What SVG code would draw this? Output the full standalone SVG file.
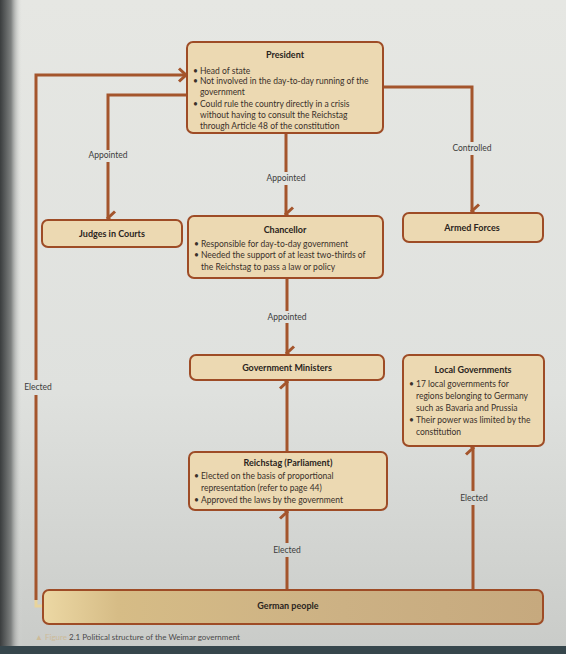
<svg xmlns="http://www.w3.org/2000/svg" width="566" height="654" viewBox="0 0 566 654">
<defs>
<linearGradient id="page" x1="0" y1="0" x2="0" y2="1">
<stop offset="0" stop-color="#e6e7e3"/>
<stop offset="0.6" stop-color="#dfe1de"/>
<stop offset="1" stop-color="#c9cbc8"/>
</linearGradient>
<linearGradient id="edge" x1="0" y1="0" x2="1" y2="0">
<stop offset="0" stop-color="#3a3d3e"/>
<stop offset="0.5" stop-color="#7d807f"/>
<stop offset="1" stop-color="#e0e1de" stop-opacity="0"/>
</linearGradient>
<linearGradient id="gold" x1="0" y1="0" x2="1" y2="0">
<stop offset="0" stop-color="#ecd8a4"/>
<stop offset="0.15" stop-color="#d6bc86"/>
<stop offset="0.6" stop-color="#ccb184"/>
<stop offset="1" stop-color="#c6a97e"/>
</linearGradient>
<marker id="arr" viewBox="0 0 16 11" refX="8" refY="9" markerWidth="16" markerHeight="11" markerUnits="userSpaceOnUse" orient="auto-start-reverse">
<polyline points="1.5,2 8,9 14.5,2" fill="none" stroke="#a4552c" stroke-width="3"/>
</marker>
<marker id="arrR" viewBox="0 0 11 16" refX="9" refY="8" markerWidth="11" markerHeight="16" markerUnits="userSpaceOnUse" orient="auto">
<polyline points="2,1.5 9,8 2,14.5" fill="none" stroke="#a4552c" stroke-width="3"/>
</marker>
</defs>
<style>
.box{fill:#ecd9b2;stroke:#9e4c26;stroke-width:2}
.t{font-family:Lato,"Open Sans",sans-serif;font-weight:bold;font-size:9px;fill:#2a2420;text-anchor:middle}
.b{font-family:Lato,"Open Sans",sans-serif;font-size:8.5px;fill:#3a302a}
.lbl{font-family:Lato,"Open Sans",sans-serif;font-size:8.5px;fill:#3c3c3c;text-anchor:middle}
.ln{fill:none;stroke:#a4552c;stroke-width:3}
.cap{font-family:Lato,"Open Sans",sans-serif;font-size:8px;fill:#4a4a4a}
</style>
<rect width="566" height="654" fill="url(#page)"/>
<rect x="0" y="0" width="22" height="654" fill="url(#edge)"/>
<rect x="0" y="646" width="566" height="8" fill="#36464c"/>

<g id="connectors">
<path class="ln" d="M36,600 V395 M36,380 V75 H186" marker-end="url(#arrR)"/>
<path class="ln" d="M188,95 H108 V150 M108,162 V218" marker-end="url(#arr)"/>
<path class="ln" d="M286,133 V172 M286,185 V214" marker-end="url(#arr)"/>
<path class="ln" d="M383,87 H472 V142 M472,155 V211" marker-end="url(#arr)"/>
<path class="ln" d="M287,279 V311 M287,323 V353" marker-end="url(#arr)"/>
<path class="ln" d="M287,451 V382" marker-end="url(#arr)"/>
<path class="ln" d="M287,590 V557 M287,543 V512" marker-end="url(#arr)"/>
<path class="ln" d="M473,596 V505 M473,491 V448" marker-end="url(#arr)"/>
<text class="lbl" x="108" y="158">Appointed</text>
<text class="lbl" x="286" y="181">Appointed</text>
<text class="lbl" x="472" y="151">Controlled</text>
<text class="lbl" x="287" y="320">Appointed</text>
<text class="lbl" x="287" y="553">Elected</text>
<text class="lbl" x="474" y="501">Elected</text>
<text class="lbl" x="38" y="390">Elected</text>
</g>

<g id="president">
<rect class="box" x="187" y="42" width="196" height="91" rx="6"/>
<text class="t" x="285" y="58">President</text>
<text class="b" x="193" y="74">• <tspan x="200">Head of state</tspan></text>
<text class="b" x="193" y="84">• <tspan x="200">Not involved in the day-to-day running of the</tspan></text>
<text class="b" x="200" y="95">government</text>
<text class="b" x="193" y="107">• <tspan x="200">Could rule the country directly in a crisis</tspan></text>
<text class="b" x="200" y="118">without having to consult the Reichstag</text>
<text class="b" x="200" y="129">through Article 48 of the constitution</text>
</g>

<g id="judges">
<rect class="box" x="42" y="220" width="140" height="27" rx="6"/>
<text class="t" x="112" y="237">Judges in Courts</text>
</g>

<g id="armed-forces">
<rect class="box" x="403" y="213" width="140" height="29" rx="6"/>
<text class="t" x="472" y="231">Armed Forces</text>
</g>

<g id="chancellor">
<rect class="box" x="188" y="216" width="195" height="62" rx="6"/>
<text class="t" x="285" y="233">Chancellor</text>
<text class="b" x="194" y="247">• <tspan x="201">Responsible for day-to-day government</tspan></text>
<text class="b" x="194" y="258">• <tspan x="201">Needed the support of at least two-thirds of</tspan></text>
<text class="b" x="201" y="270">the Reichstag to pass a law or policy</text>
</g>

<g id="government-ministers">
<rect class="box" x="190" y="355" width="194" height="25" rx="6"/>
<text class="t" x="287" y="371">Government Ministers</text>
</g>

<g id="local-governments">
<rect class="box" x="403" y="355" width="141" height="91" rx="6"/>
<text class="t" x="473" y="373">Local Governments</text>
<text class="b" x="409" y="387">• <tspan x="416">17 local governments for</tspan></text>
<text class="b" x="416" y="399">regions belonging to Germany</text>
<text class="b" x="416" y="411">such as Bavaria and Prussia</text>
<text class="b" x="409" y="423">• <tspan x="416">Their power was limited by the</tspan></text>
<text class="b" x="416" y="435">constitution</text>
</g>

<g id="reichstag">
<rect class="box" x="189" y="452" width="198" height="58" rx="6"/>
<text class="t" x="288" y="466">Reichstag (Parliament)</text>
<text class="b" x="194" y="479">• <tspan x="201">Elected on the basis of proportional</tspan></text>
<text class="b" x="201" y="491">representation (refer to page 44)</text>
<text class="b" x="194" y="503">• <tspan x="201">Approved the laws by the government</tspan></text>
</g>

<g id="german-people">
<path d="M36,600 V606 H44" fill="none" stroke="#e8d49c" stroke-width="3"/>
<rect x="43" y="590" width="500" height="34" rx="6" fill="url(#gold)" stroke="#9e4c26" stroke-width="2"/>
<text class="t" x="288" y="609">German people</text>
</g>

<text class="cap" x="35" y="640"><tspan fill="#cdbb98">▲ Figure</tspan> 2.1 Political structure of the Weimar government</text>
</svg>
